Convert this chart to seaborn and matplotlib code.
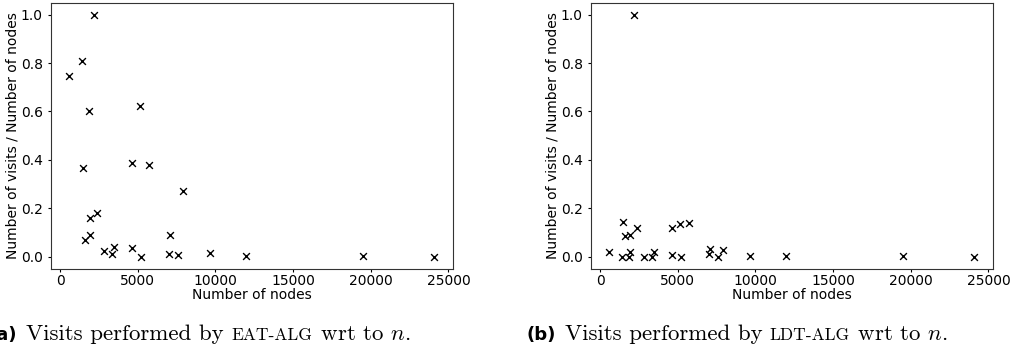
import matplotlib
matplotlib.use("Agg")
import matplotlib.pyplot as plt
import seaborn as sns
import pandas as pd

# number of nodes of each graph (shared by both panels)
n_nodes = [570, 1415, 1458, 1580, 1888, 1910, 1940, 2210, 2380, 2800, 3355, 3475,
           4610, 4620, 5115, 5190, 5725, 7010, 7095, 7590, 7890, 9670, 11965, 19510, 24100]

# visits / nodes ratio
eat_ratio = [0.745, 0.807, 0.367, 0.069, 0.603, 0.159, 0.090, 1.0, 0.181, 0.022, 0.011, 0.041,
             0.035, 0.389, 0.623, 0.0, 0.378, 0.011, 0.090, 0.006, 0.270, 0.013, 0.003, 0.004, 0.0]
ldt_ratio = [0.017, 0.0, 0.145, 0.086, 0.0, 0.090, 0.017, 1.0, 0.120, 0.0, 0.0, 0.017,
             0.117, 0.008, 0.136, 0.0, 0.138, 0.012, 0.033, 0.0, 0.029, 0.004, 0.004, 0.002, 0.0]

df = pd.DataFrame({'nodes': n_nodes, 'eat': eat_ratio, 'ldt': ldt_ratio})

plt.rcParams['mathtext.fontset'] = 'cm'

fig = plt.figure(figsize=(10.16, 3.51), dpi=100)
ax_a = fig.add_axes([0.0499, 0.2345, 0.3957, 0.758])
ax_b = fig.add_axes([0.5814, 0.2345, 0.3957, 0.758])

for ax, col in [(ax_a, 'eat'), (ax_b, 'ldt')]:
    sns.scatterplot(data=df, x='nodes', y=col, ax=ax, marker='x', color='black',
                    s=24, linewidth=1)
    ax.set_xlabel("Number of nodes", fontsize=10, labelpad=0)
    ax.set_ylabel("Number of visits / Number of nodes", fontsize=10, labelpad=1)
    ax.tick_params(labelsize=10, length=2.2)
    ax.tick_params(axis='x', pad=1.5)
    ax.set_xticks([0, 5000, 10000, 15000, 20000, 25000])
    for s in ax.spines.values():
        s.set_color('#333333')

# sub-captions: bold label, serif text, fake small caps for the algorithm name
def caption(x, label, alg):
    y = 0.031
    fig.text(x, y, label, fontsize=13, fontweight='bold', family='DejaVu Sans', va='baseline')
    t = fig.text(x + 0.037, y, "Visits performed by ", fontsize=16.5, family='cmr10', va='baseline')
    fig.canvas.draw()
    bb = t.get_window_extent()
    t2 = fig.text(bb.x1 / fig.bbox.width, y, alg, fontsize=12.5, family='cmr10', va='baseline')
    bb2 = t2.get_window_extent()
    fig.text(bb2.x1 / fig.bbox.width, y, r" wrt to $n$.", fontsize=16.5, family='cmr10', va='baseline')

caption(-0.011, "(a)", "EAT-ALG")
caption(0.5187, "(b)", "LDT-ALG")

fig.savefig("out.png", dpi=100)
